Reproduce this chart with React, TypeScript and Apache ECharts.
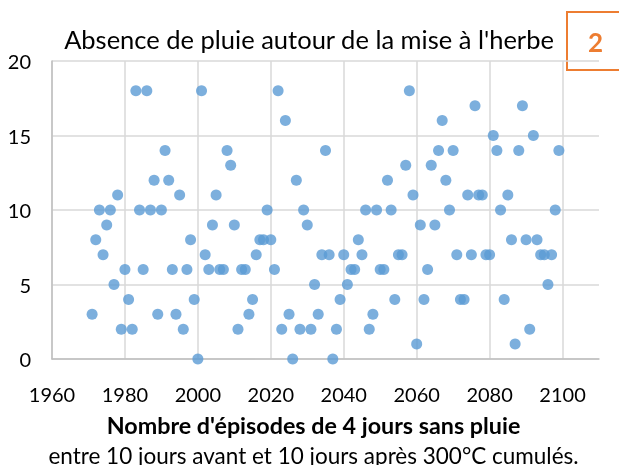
import React, { useEffect, useRef } from "react";
import * as echarts from "echarts";

const years = [
  1971, 1972, 1973, 1974, 1975, 1976, 1977, 1978, 1979, 1980,
  1981, 1982, 1983, 1984, 1985, 1986, 1987, 1988, 1989, 1990,
  1991, 1992, 1993, 1994, 1995, 1996, 1997, 1998, 1999, 2000,
  2001, 2002, 2003, 2004, 2005, 2006, 2007, 2008, 2009, 2010,
  2011, 2012, 2013, 2014, 2015, 2016, 2017, 2018, 2019, 2020,
  2021, 2022, 2023, 2024, 2025, 2026, 2027, 2028, 2029, 2030,
  2031, 2032, 2033, 2034, 2035, 2036, 2037, 2038, 2039, 2040,
  2041, 2042, 2043, 2044, 2045, 2046, 2047, 2048, 2049, 2050,
  2051, 2052, 2053, 2054, 2055, 2056, 2057, 2058, 2059, 2060,
  2061, 2062, 2063, 2064, 2065, 2066, 2067, 2068, 2069, 2070,
  2071, 2072, 2073, 2074, 2075, 2076, 2077, 2078, 2079, 2080,
  2081, 2082, 2083, 2084, 2085, 2086, 2087, 2088, 2089, 2090,
  2091, 2092, 2093, 2094, 2095, 2096, 2097, 2098, 2099,
];

const episodes = [
  3, 8, 10, 7, 9, 10, 5, 11, 2, 6,
  4, 2, 18, 10, 6, 18, 10, 12, 3, 10,
  14, 12, 6, 3, 11, 2, 6, 8, 4, 0,
  18, 7, 6, 9, 11, 6, 6, 14, 13, 9,
  2, 6, 6, 3, 4, 7, 8, 8, 10, 8,
  6, 18, 2, 16, 3, 0, 12, 2, 10, 9,
  2, 5, 3, 7, 14, 7, 0, 2, 4, 7,
  5, 6, 6, 8, 7, 10, 2, 3, 10, 6,
  6, 12, 10, 4, 7, 7, 13, 18, 11, 1,
  9, 4, 6, 13, 9, 14, 16, 12, 10, 14,
  7, 4, 4, 11, 7, 17, 11, 11, 7, 7,
  15, 14, 10, 4, 11, 8, 1, 14, 17, 8,
  2, 15, 8, 7, 7, 5, 7, 10, 14,
];

const xTicks = [1960, 1980, 2000, 2020, 2040, 2060, 2080, 2100];
const yTicks = [0, 5, 10, 15, 20];

const titleText = "Absence de pluie autour de la mise à l'herbe";
const badgeText = "2";
const xNameLine1 = "Nombre d'épisodes de 4 jours sans pluie";
const xNameLine2 = "entre 10 jours avant et 10 jours après 300°C cumulés.";

const FONT = "Lato, 'Open Sans', sans-serif";

export default function App() {
  const ref = useRef<HTMLDivElement>(null);

  useEffect(() => {
    if (!ref.current) return;
    const chart = echarts.init(ref.current, undefined, { renderer: "svg" });
    const xMin = xTicks[0];
    const xStep = xTicks[1] - xTicks[0];
    const xMax = xTicks[xTicks.length - 1] + xStep / 2;
    const gridColors = xTicks.map(() => "#d9d9d9").concat(["rgba(0,0,0,0)"]);

    chart.setOption({
      animation: false,
      textStyle: { fontFamily: FONT },
      grid: { left: 52, right: 20, top: 61, bottom: 106, containLabel: false },
      xAxis: {
        type: "value",
        min: xMin,
        max: xMax,
        interval: xStep,
        axisLine: { show: true, lineStyle: { color: "#bfbfbf", width: 1.5 } },
        axisTick: { show: false },
        splitLine: { show: true, lineStyle: { color: gridColors, width: 1.5 } },
        axisLabel: {
          color: "#000",
          fontSize: 20,
          fontFamily: FONT,
          margin: 25,
          formatter: (v: number) => (xTicks.indexOf(v) >= 0 ? String(v) : ""),
        },
      },
      yAxis: {
        type: "value",
        min: yTicks[0],
        max: yTicks[yTicks.length - 1],
        interval: yTicks[1] - yTicks[0],
        axisLine: { show: true, lineStyle: { color: "#bfbfbf", width: 1.5 } },
        axisTick: { show: false },
        splitLine: { show: true, lineStyle: { color: "#d9d9d9", width: 1.5 } },
        axisLabel: { color: "#000", fontSize: 20, fontFamily: FONT, margin: 21 },
      },
      series: [
        {
          type: "scatter",
          data: years.map((y, i) => [y, episodes[i]]),
          symbol: "circle",
          symbolSize: 11,
          itemStyle: { color: "#5b9bd5" },
        },
      ],
      graphic: [
        {
          type: "text",
          x: 309,
          y: 39,
          style: {
            text: titleText,
            fill: "#000",
            font: `25.5px ${FONT}`,
            textAlign: "center",
            textVerticalAlign: "middle",
          },
        },
        {
          type: "rect",
          shape: { x: 567, y: 12, width: 70, height: 58 },
          style: { fill: "#fff", stroke: "#ed7d31", lineWidth: 2 },
        },
        {
          type: "text",
          x: 595.5,
          y: 42,
          style: {
            text: badgeText,
            fill: "#ed7d31",
            font: `bold 26px ${FONT}`,
            textAlign: "center",
            textVerticalAlign: "middle",
          },
        },
        {
          type: "text",
          x: 313.5,
          y: 425,
          style: {
            text: xNameLine1,
            fill: "#000",
            font: `bold 23.3px ${FONT}`,
            textAlign: "center",
            textVerticalAlign: "middle",
          },
        },
        {
          type: "text",
          x: 313.5,
          y: 455,
          style: {
            text: xNameLine2,
            fill: "#000",
            font: `22.5px ${FONT}`,
            textAlign: "center",
            textVerticalAlign: "middle",
          },
        },
      ],
    });
    return () => chart.dispose();
  }, []);

  return (
    <div
      ref={ref}
      style={{ position: "fixed", left: 0, top: 0, width: 619, height: 465 }}
    />
  );
}
